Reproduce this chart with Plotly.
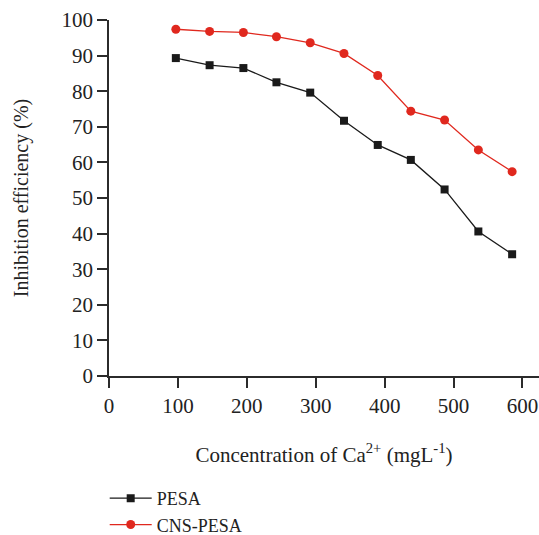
import plotly.graph_objects as go

# Ca2+ concentration (mg/L) and inhibition efficiency (%)
concentration = [97, 146, 195, 243, 292, 341, 390, 438, 487, 536, 585]
pesa = [89.3, 87.3, 86.5, 82.5, 79.6, 71.7, 64.9, 60.7, 52.4, 40.6, 34.2]
cns_pesa = [97.4, 96.8, 96.5, 95.3, 93.6, 90.6, 84.4, 74.4, 71.9, 63.5, 57.4]

x_ticks = [0, 100, 200, 300, 400, 500, 600]
y_ticks = [0, 10, 20, 30, 40, 50, 60, 70, 80, 90, 100]

FONT = "Liberation Serif"
AXIS = "#2b2b2b"
TEXT = "#222222"

fig = go.Figure()
fig.add_trace(go.Scatter(
    x=concentration, y=pesa, name="PESA", mode="lines+markers",
    line=dict(color="#1a1a1a", width=1.3),
    marker=dict(symbol="square", size=8, color="#1a1a1a"),
    cliponaxis=False,
))
fig.add_trace(go.Scatter(
    x=concentration, y=cns_pesa, name="CNS-PESA", mode="lines+markers",
    line=dict(color="#e0281e", width=1.3),
    marker=dict(symbol="circle", size=9, color="#e0281e"),
    cliponaxis=False,
))

fig.update_layout(
    width=539, height=535,
    margin=dict(l=109, r=0, t=20, b=159, autoexpand=False),
    plot_bgcolor="white", paper_bgcolor="white",
    font=dict(family=FONT, size=20, color=TEXT),
    showlegend=True,
    legend=dict(
        x=-0.01, y=-0.292, xanchor="left", yanchor="top",
        orientation="v", font=dict(family=FONT, size=18, color=TEXT),
        tracegroupgap=0, itemwidth=42, bgcolor="rgba(0,0,0,0)",
    ),
    xaxis=dict(
        range=[0, 624], tickvals=x_ticks, ticktext=[str(v) for v in x_ticks],
        showgrid=False, zeroline=False, showline=True, linecolor=AXIS, linewidth=1.5,
        ticks="outside", ticklen=10, tickwidth=1.5, tickcolor=AXIS,
        tickfont=dict(family=FONT, size=21),
        title=dict(text="Concentration of Ca<sup>2+</sup> (mgL<sup>-1</sup>)",
                   font=dict(family=FONT, size=21), standoff=30),
    ),
    yaxis=dict(
        range=[0, 100], tickvals=y_ticks, ticktext=[str(v) for v in y_ticks],
        showgrid=False, zeroline=False, showline=True, linecolor=AXIS, linewidth=1.5,
        ticks="outside", ticklen=10, tickwidth=1.5, tickcolor=AXIS,
        tickfont=dict(family=FONT, size=21),
        title=dict(text="Inhibition efficiency (%)", font=dict(family=FONT, size=20),
                   standoff=28),
    ),
)

fig.write_html("out.html")
